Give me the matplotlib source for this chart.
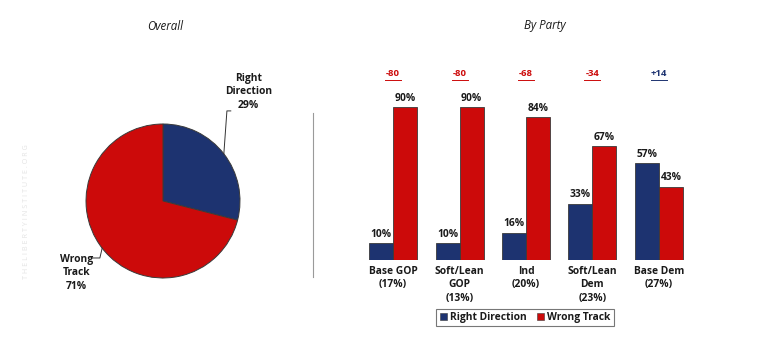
import matplotlib
matplotlib.use("Agg")
import matplotlib.pyplot as plt
from matplotlib.patches import Patch
import numpy as np

plt.rcParams['font.family'] = ['Open Sans', 'DejaVu Sans']

# ---- data ----
pie_labels = ["Right\nDirection", "Wrong\nTrack"]
pie_values = [29, 71]

categories = ["Base GOP\n(17%)", "Soft/Lean\nGOP\n(13%)", "Ind\n(20%)", "Soft/Lean\nDem\n(23%)", "Base Dem\n(27%)"]
right_direction = [10, 10, 16, 33, 57]
wrong_track = [90, 90, 84, 67, 43]
net_labels = ["-80", "-80", "-68", "-34", "+14"]

BLUE = "#1D3370"
RED = "#CC0A0A"
EDGE = "#3a3a3a"
TXT = "#1a1a1a"
FS = 7.4

W, H = 768, 346
fig = plt.figure(figsize=(W / 100, H / 100), dpi=100)
fig.patch.set_facecolor("white")

def px_axes(x0, y0, x1, y1):
    return fig.add_axes([x0 / W, 1 - y1 / H, (x1 - x0) / W, (y1 - y0) / H])

# titles
fig.text(165 / W, 1 - 26 / H, "Overall", ha="center", va="center", fontsize=8.3, style="italic", color=TXT)
fig.text(545 / W, 1 - 26 / H, "By Party", ha="center", va="center", fontsize=8.3, style="italic", color=TXT)

# watermark
fig.text(27 / W, 1 - 212 / H, " ".join("THELIBERTYINSTITUTE.ORG"), rotation=90, ha="center", va="center",
         fontsize=5.2, color="#e4e4e4")

# separator line
fig.add_artist(plt.Line2D([313 / W, 313 / W], [1 - 113 / H, 1 - 277 / H], color="#9a9a9a", lw=0.8))

# ---- pie ----
cx, cy, r = 163, 201, 77
pax = px_axes(cx - r, cy - r, cx + r, cy + r)
wedges, _ = pax.pie(pie_values, colors=[BLUE, RED], startangle=90, counterclock=False,
                    wedgeprops=dict(edgecolor=EDGE, linewidth=0.7), radius=1)
pax.set_xlim(-1, 1)
pax.set_ylim(-1, 1)
pax.set_aspect("equal")
pax.axis("off")

cum = 0
label_pos = [(1.11, 1.42), (-1.12, -0.93)]
for i, (lab, v) in enumerate(zip(pie_labels, pie_values)):
    mid = 90 - (cum + v / 2) * 3.6
    cum += v
    xe, ye = np.cos(np.radians(mid)), np.sin(np.radians(mid))
    tx, ty = label_pos[i]
    pax.text(tx, ty, f"{lab}\n{v}%", ha="center", va="center", fontsize=FS, fontweight="bold",
             color=TXT, linespacing=1.3)
    if i == 0:
        pax.plot([xe, 0.83, 0.88], [ye, 1.17, 1.17], color="#333333", lw=0.7, clip_on=False)
    else:
        pax.plot([xe, -0.82, -0.92], [ye, -0.74, -0.74], color="#333333", lw=0.7, clip_on=False)

# ---- bars ----
bax = px_axes(340, 90, 712, 260)
x = np.arange(len(categories))
bw = 0.362
b1 = bax.bar(x - bw / 2, right_direction, bw, color=BLUE, edgecolor=EDGE, linewidth=0.6, label="Right Direction")
b2 = bax.bar(x + bw / 2, wrong_track, bw, color=RED, edgecolor=EDGE, linewidth=0.6, label="Wrong Track")
bax.set_xlim(-0.8, 4.8)
bax.set_ylim(0, 100)
bax.axis("off")

for rects, vals in ((b1, right_direction), (b2, wrong_track)):
    for rect, v in zip(rects, vals):
        bax.annotate(f"{v}%", (rect.get_x() + rect.get_width() / 2, v), xytext=(0, 2.5),
                     textcoords="offset points", ha="center", va="bottom", fontsize=FS,
                     fontweight="bold", color=TXT, annotation_clip=False)

for xi, lab in zip(x, categories):
    bax.annotate(lab, (xi, 0), xytext=(0, -4), textcoords="offset points", ha="center", va="top",
                 fontsize=FS, fontweight="bold", color=TXT, linespacing=1.35, annotation_clip=False)

for xi, lab in zip(x, net_labels):
    col = BLUE if lab.startswith("+") else RED
    bax.text(xi, 109.5, lab, ha="center", va="center", fontsize=6.8, fontweight="bold", color=col,
             clip_on=False)
    bax.plot([xi - 0.12, xi + 0.12], [105.8, 105.8], color=col, lw=0.7, clip_on=False)

leg = fig.legend(handles=[Patch(facecolor=BLUE, edgecolor=EDGE, lw=0.4, label="Right Direction"),
                          Patch(facecolor=RED, edgecolor=EDGE, lw=0.4, label="Wrong Track")],
                 loc="center", bbox_to_anchor=(525 / W, 1 - 317.5 / H), ncol=2,
                 frameon=True, fancybox=False, handlelength=0.7, handleheight=0.7, handletextpad=0.3,
                 columnspacing=1.0, borderpad=0.3, prop=dict(weight="bold", size=FS))
leg.get_frame().set_edgecolor("#555555")
leg.get_frame().set_linewidth(0.8)
for t in leg.get_texts():
    t.set_color(TXT)

fig.savefig("out.png", dpi=100, facecolor="white")
